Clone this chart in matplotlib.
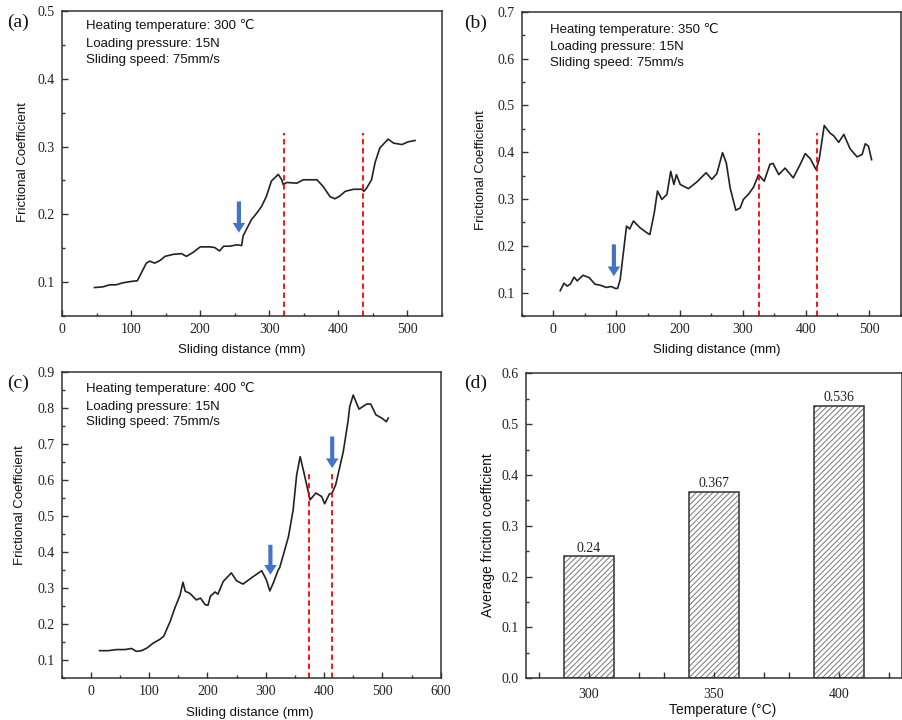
import matplotlib
matplotlib.use("Agg")
import matplotlib.pyplot as plt
from matplotlib.ticker import MultipleLocator, FormatStrFormatter

# dane
dist_300 = [47, 59, 69, 78, 88, 100, 109, 115, 122, 127, 134, 142, 149, 161, 173, 180,
            190, 200, 214, 221, 228, 234, 243, 253, 260, 262, 269, 274, 282, 289, 296,
            303, 313, 318, 320, 325, 340, 349, 369, 378, 388, 395, 402, 410, 422, 434,
            437, 441, 448, 453, 460, 472, 480, 492, 501, 511]
mu_300 = [0.092, 0.093, 0.096, 0.096, 0.099, 0.101, 0.102, 0.114, 0.128, 0.131, 0.128,
          0.132, 0.138, 0.141, 0.142, 0.138, 0.144, 0.152, 0.152, 0.151, 0.146, 0.153,
          0.153, 0.155, 0.154, 0.168, 0.182, 0.192, 0.202, 0.212, 0.227, 0.249, 0.259,
          0.251, 0.244, 0.247, 0.246, 0.251, 0.251, 0.241, 0.226, 0.223, 0.227, 0.234,
          0.237, 0.237, 0.234, 0.239, 0.251, 0.276, 0.298, 0.311, 0.305, 0.303, 0.307,
          0.309]

dist_350 = [11, 17, 22, 27, 33, 38, 47, 57, 66, 74, 84, 92, 98, 102, 106, 111, 116, 121,
            127, 137, 148, 153, 160, 165, 172, 180, 186, 191, 195, 201, 214, 227, 242,
            251, 259, 268, 274, 280, 289, 296, 301, 309, 317, 325, 334, 343, 348, 357,
            367, 380, 391, 399, 407, 416, 421, 429, 438, 444, 452, 460, 470, 481, 489,
            494, 499, 504]
mu_350 = [0.104, 0.120, 0.114, 0.118, 0.133, 0.125, 0.137, 0.132, 0.118, 0.116, 0.111,
          0.113, 0.109, 0.109, 0.128, 0.185, 0.242, 0.236, 0.253, 0.239, 0.228, 0.224,
          0.271, 0.317, 0.299, 0.310, 0.359, 0.331, 0.352, 0.331, 0.322, 0.336, 0.356,
          0.342, 0.354, 0.399, 0.377, 0.324, 0.276, 0.281, 0.299, 0.310, 0.325, 0.352,
          0.338, 0.374, 0.376, 0.352, 0.366, 0.345, 0.374, 0.397, 0.386, 0.363, 0.384,
          0.457, 0.441, 0.435, 0.421, 0.438, 0.407, 0.390, 0.395, 0.418, 0.413, 0.384]

dist_400 = [15, 30, 44, 58, 70, 78, 87, 96, 107, 118, 125, 136, 144, 153, 158, 162, 170,
            181, 188, 196, 201, 205, 213, 218, 227, 241, 250, 261, 276, 293, 301, 307,
            314, 321, 324, 331, 339, 347, 353, 359, 365, 376, 386, 396, 401, 409, 414,
            420, 433, 441, 444, 450, 460, 473, 480, 489, 499, 507, 510]
mu_400 = [0.125, 0.125, 0.128, 0.128, 0.131, 0.123, 0.125, 0.132, 0.146, 0.156, 0.165,
          0.206, 0.243, 0.279, 0.315, 0.290, 0.284, 0.266, 0.271, 0.253, 0.251, 0.276,
          0.288, 0.282, 0.317, 0.341, 0.319, 0.310, 0.328, 0.347, 0.322, 0.291, 0.317,
          0.348, 0.356, 0.396, 0.442, 0.516, 0.613, 0.664, 0.623, 0.544, 0.563, 0.553,
          0.533, 0.560, 0.563, 0.586, 0.678, 0.761, 0.803, 0.835, 0.796, 0.810, 0.810,
          0.780, 0.771, 0.761, 0.771]

temps = [300, 350, 400]
avg_mu = [0.24, 0.367, 0.536]

# linie przerywane i strzalki (x, y_start, y_grot)
dash_300 = [321, 436]
dash_350 = [325, 417.5]
dash_400 = [374.5, 414]
dash_top = [0.32, 0.441, 0.616]
arrows_300 = [(256, 0.219, 0.173)]
arrows_350 = [(96, 0.203, 0.135)]
arrows_400 = [(308, 0.419, 0.336), (414, 0.72, 0.632)]

SERIF = 'Liberation Serif'
SANS = ['Liberation Sans', 'DejaVu Sans']
plt.rcParams['font.family'] = SANS
plt.rcParams['hatch.linewidth'] = 0.7

fig = plt.figure(figsize=(9.03, 7.2), dpi=100)
ax_a = fig.add_axes([0.0687, 0.5611, 0.4208, 0.4236])
ax_b = fig.add_axes([0.5777, 0.5611, 0.4197, 0.4226])
ax_c = fig.add_axes([0.0683, 0.0588, 0.4197, 0.4250])
ax_d = fig.add_axes([0.5825, 0.0579, 0.4164, 0.4236])


def style_axes(ax):
    for s in ax.spines.values():
        s.set_color('#333333')
        s.set_linewidth(1.1)
    ax.tick_params(which='both', direction='in', top=False, right=False,
                   color='#333333', labelsize=10, labelcolor='#222222', pad=5)
    ax.tick_params(which='major', length=4, width=1)
    ax.tick_params(which='minor', length=2.5, width=1)
    for lab in ax.get_xticklabels() + ax.get_yticklabels():
        lab.set_family(SERIF)


panels = [
    (ax_a, dist_300, mu_300, dash_300, dash_top[0], arrows_300, '300', (0, 550), (0.05, 0.5),
     0.5, 0.063, [0.954, 0.892, 0.839], (0.472, -0.111), (-0.103, 0.506)),
    (ax_b, dist_350, mu_350, dash_350, dash_top[1], arrows_350, '350', (-50, 550), (0.05, 0.7),
     0.7, 0.075, [0.942, 0.883, 0.833], (0.514, -0.112), (-0.106, 0.48)),
    (ax_c, dist_400, mu_400, dash_400, dash_top[2], arrows_400, '400', (-50, 600), (0.05, 0.9),
     0.9, 0.064, [0.946, 0.886, 0.837], (0.497, -0.115), (-0.110, 0.564)),
]

for ax, xs, ys, dashes, dtop, arrows, temp, xl, yl, ymaxtick, tx, tys, xlc, ylc in panels:
    ax.plot(xs, ys, color='#222222', lw=1.2)
    for xd in dashes:
        ax.plot([xd, xd], [yl[0], dtop], color='red', lw=1.3, ls=(0, (3, 2)))
    for xa, y0, y1 in arrows:
        ax.annotate('', xy=(xa, y1), xytext=(xa, y0),
                    arrowprops=dict(width=3, headwidth=9, headlength=7,
                                    facecolor='#4472C4', edgecolor='none', shrink=0))
    ax.set_xlim(*xl)
    ax.set_ylim(*yl)
    ax.xaxis.set_major_locator(MultipleLocator(100))
    ax.xaxis.set_minor_locator(MultipleLocator(50))
    ax.set_yticks([round(0.1 * k, 1) for k in range(1, int(round(ymaxtick * 10)) + 1)])
    ax.yaxis.set_minor_locator(MultipleLocator(0.05))
    ax.yaxis.set_major_formatter(FormatStrFormatter('%.1f'))
    style_axes(ax)
    ax.text(tx, tys[0], 'Heating temperature: ' + temp + ' \u2103', transform=ax.transAxes,
            fontsize=9.5, va='center', ha='left', color='#111111')
    ax.text(tx, tys[1], 'Loading pressure: 15N', transform=ax.transAxes,
            fontsize=9.5, va='center', ha='left', color='#111111')
    ax.text(tx, tys[2], 'Sliding speed: 75mm/s', transform=ax.transAxes,
            fontsize=9.5, va='center', ha='left', color='#111111')
    ax.set_xlabel('Sliding distance (mm)', fontsize=9.5, color='#111111')
    ax.xaxis.set_label_coords(*xlc)
    ax.xaxis.label.set_va('center')
    ax.set_ylabel('Frictional Coefficient', fontsize=9.5, color='#111111')
    ax.yaxis.set_label_coords(*ylc)
    ax.yaxis.label.set_va('center')

# (d) slupki
ax_d.bar(temps, avg_mu, width=20, color='white', edgecolor='#777777', hatch='//////', lw=0)
bars = ax_d.bar(temps, avg_mu, width=20, color='none', edgecolor='#333333', lw=1.1)
ax_d.bar_label(bars, fmt='%g', padding=1, fontsize=10, family=SERIF, color='#222222')
ax_d.set_xlim(275, 425)
ax_d.set_ylim(0, 0.6)
ax_d.set_xticks(temps)
ax_d.set_xticks([280, 320, 330, 370, 380, 420], minor=True)
ax_d.yaxis.set_major_locator(MultipleLocator(0.1))
ax_d.yaxis.set_minor_locator(MultipleLocator(0.05))
ax_d.yaxis.set_major_formatter(FormatStrFormatter('%.1f'))
style_axes(ax_d)
ax_d.tick_params(axis='x', which='major', pad=7)
ax_d.tick_params(axis='x', which='minor', length=4)
for lab in ax_d.get_xticklabels() + ax_d.get_yticklabels():
    lab.set_family(SERIF)
ax_d.set_xlabel('Temperature (\u00b0C)', fontsize=10, color='#111111')
ax_d.xaxis.set_label_coords(0.523, -0.104)
ax_d.xaxis.label.set_va('center')
ax_d.set_ylabel('Average friction coefficient', fontsize=10, color='#111111')
ax_d.yaxis.set_label_coords(-0.100, 0.468)
ax_d.yaxis.label.set_va('center')

# etykiety paneli
for lbl, x, y in [('(a)', 18, 22.7), ('(b)', 476, 23), ('(c)', 18, 383), ('(d)', 476, 383)]:
    fig.text(x / 903, 1 - y / 720, lbl, family=SERIF, fontsize=14,
             ha='center', va='center', color='#111111')

fig.savefig('out.png', dpi=100)
